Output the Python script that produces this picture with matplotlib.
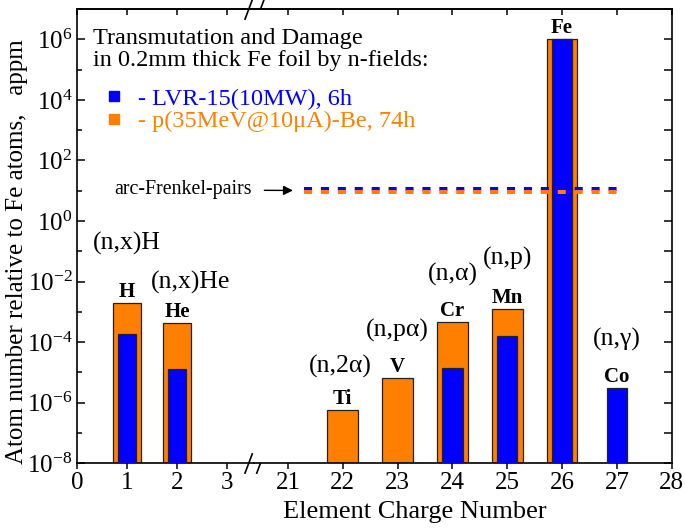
import numpy as np
import matplotlib
matplotlib.use("Agg")
import matplotlib.pyplot as plt
from matplotlib.lines import Line2D
from matplotlib.path import Path

plt.rcParams['font.family'] = ['Liberation Serif', 'DejaVu Serif']
plt.rcParams['mathtext.fontset'] = 'stix'

# --- data (appm) ---
z_left = [1, 2]
z_right = [22, 23, 24, 25, 26, 27]
symbols = ['H', 'He', 'Ti', 'V', 'Cr', 'Mn', 'Fe', 'Co']
reactions = ['(n,x)H', '(n,x)He', '(n,2α)', '(n,pα)', '(n,α)', '(n,p)', '', '(n,γ)']
pbe_74h = [1.9e-3, 4.3e-4, 5.5e-7, 6.5e-6, 4.7e-4, 1.2e-3, 1.0e6, np.nan]
lvr_6h = [1.8e-4, 1.3e-5, np.nan, np.nan, 1.4e-5, 1.6e-4, 1.0e6, 3.0e-6]
frenkel_lvr = 11.5
frenkel_pbe = 9.2
frenkel_span = [21.3, 27.0]

ticks_left = [0, 1, 2, 3]
ticks_right = [21, 22, 23, 24, 25, 26, 27, 28]

BLUE = '#0000FF'
ORANGE = '#FF8000'
EDGE = '#222222'

# label offsets in points relative to the top of the taller bar
react_dy = [43, 29, 32, 34, 34, 37, 0, 35]
react_dx = [0, 10, -2, 0, 0, 0, 0, 0]

fig = plt.figure(figsize=(6.85, 5.29), dpi=100)
L, R, B, T = 77.3 / 685, 671.7 / 685, 1 - 463.3 / 529, 1 - 9 / 529
xj = 254 / 685
ax1 = fig.add_axes([L, B, xj - L, T - B])
ax2 = fig.add_axes([xj, B, R - xj, T - B], sharey=ax1)

ax1.set_xlim(0, 3.54)
ax2.set_xlim(20.38, 28)
ax1.set_yscale('log')
ax1.set_ylim(1e-8, 1e7)

z_all = z_left + z_right
for i, zz in enumerate(z_all):
    ax = ax1 if zz < 10 else ax2
    if not np.isnan(pbe_74h[i]):
        ax.bar(zz, pbe_74h[i], width=0.56, bottom=1e-8, color=ORANGE,
               edgecolor=EDGE, linewidth=0.9, zorder=2)
    if not np.isnan(lvr_6h[i]):
        ax.bar(zz, lvr_6h[i], width=0.37, bottom=1e-8, color=BLUE,
               edgecolor=EDGE, linewidth=0.9, zorder=3)
    top = np.nanmax([pbe_74h[i], lvr_6h[i]])
    ax.annotate(symbols[i], (zz, top), xytext=(0, 8), textcoords='offset points',
                ha='center', va='center', fontsize=15, fontweight='bold')
    if reactions[i]:
        ax.annotate(reactions[i], (zz, top), xytext=(react_dx[i], react_dy[i]),
                    textcoords='offset points', ha='center', va='center', fontsize=18.5)

# arc-Frenkel-pairs lines
ax2.plot(frenkel_span, [frenkel_lvr] * 2, color=BLUE, lw=2.9, dashes=(2.0, 2.2), zorder=4)
ax2.plot(frenkel_span, [frenkel_pbe] * 2, color=ORANGE, lw=2.9, dashes=(2.0, 2.2), zorder=5)
ax2.annotate('arc-Frenkel-pairs', xy=(21.09, 10.2), xytext=(20.34, 10.6),
             ha='right', va='center', fontsize=14.3, annotation_clip=False,
             arrowprops=dict(arrowstyle='-|>', color='black', lw=1.0,
                             shrinkA=7, shrinkB=0, mutation_scale=14))

# axes styling
for ax in (ax1, ax2):
    for s in ax.spines.values():
        s.set_linewidth(1.2)
ax1.spines['right'].set_visible(False)
ax2.spines['left'].set_visible(False)

dec_major = [10.0 ** k for k in range(-8, 7, 2)]
dec_minor = [10.0 ** k for k in range(-7, 8, 2)]
ax1.set_yticks(dec_major)
ax1.set_yticks(dec_minor, minor=True)
ax1.set_yticklabels([r'$\mathregular{10^{%d}}$' % k for k in range(-8, 7, 2)])
ax1.set_yticklabels([], minor=True)
ax1.tick_params(axis='y', which='major', direction='in', length=6, width=1.1,
                labelsize=18, left=True, right=False)
ax1.tick_params(axis='y', which='minor', direction='in', length=3.5, width=1.1,
                left=True, right=False)
ax2.tick_params(axis='y', which='both', direction='in', length=5.5, width=1.1,
                left=False, right=True, labelleft=False, labelright=False)

ax1.set_xticks(ticks_left)
ax2.set_xticks(ticks_right)
for ax, tk in ((ax1, ticks_left), (ax2, ticks_right)):
    ax.tick_params(axis='x', direction='out', length=4, width=1.1, labelsize=18, pad=2)
    sec = ax.secondary_xaxis('top')
    sec.set_xticks(tk)
    sec.tick_params(direction='in', length=4, width=1.1, labeltop=False)
    sec.spines['top'].set_linewidth(1.2)
ax1.xaxis.set_minor_locator(plt.NullLocator())
ax2.xaxis.set_minor_locator(plt.NullLocator())

# axis break marks
brk = Path([(-1.5, -1.6), (-0.3, 1.6), (0.3, -1.6), (1.5, 1.6)],
           [Path.MOVETO, Path.LINETO, Path.MOVETO, Path.LINETO])
ax1.plot([1, 1], [0, 1], ls='', marker=brk, markersize=15, mec='black', mew=1.2,
         transform=ax1.transAxes, clip_on=False, zorder=10)

ax1.set_ylabel('Atom number relative to Fe atoms,   appm', fontsize=18)
ax1.yaxis.set_label_coords(-0.28, 0.465)
fig.text(415 / 685, 1 - 512 / 529, 'Element Charge Number', ha='center', va='center',
         fontsize=19)

# legend block
fig.text(93 / 685, 1 - 49.5 / 529,
         'Transmutation and Damage\nin 0.2mm thick Fe foil by n-fields:',
         ha='left', va='center', fontsize=17.5, linespacing=1.05)
handles = [Line2D([], [], ls='', marker='s', markersize=6.5, color=BLUE),
           Line2D([], [], ls='', marker='s', markersize=6.5, color=ORANGE)]
fig.legend(handles, ['- LVR-15(10MW), 6h', '- p(35MeV@10μA)-Be, 74h'],
           loc='center left', bbox_to_anchor=(93 / 685, 1 - 110 / 529), frameon=False,
           fontsize=17.5, labelcolor=[BLUE, ORANGE],
           borderpad=0, borderaxespad=0, handlelength=1.69, handletextpad=0.16,
           labelspacing=0.0)

fig.savefig('out.png', dpi=100)
